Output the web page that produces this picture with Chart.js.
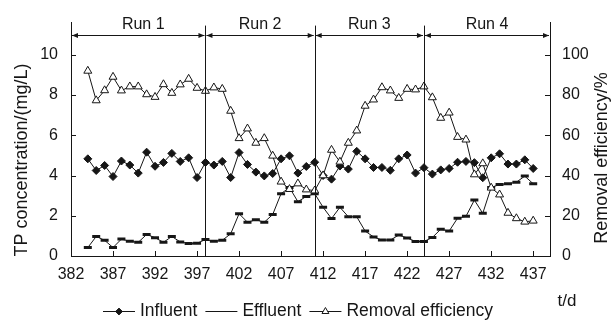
<!DOCTYPE html>
<html>
<head>
<meta charset="utf-8">
<script src="https://cdn.jsdelivr.net/npm/chart.js@4.4.1/dist/chart.umd.min.js"></script>
<style>
html, body { margin: 0; padding: 0; background: #fff; }
</style>
</head>
<body>
<canvas id="graph" width="612" height="327"></canvas>
<script>
// days of operation (t/d)
var days = [384, 385, 386, 387, 388, 389, 390, 391, 392, 393, 394, 395, 396, 397, 398, 399, 400,
  401, 402, 403, 404, 405, 406, 407, 408, 409, 410, 411, 412, 413, 414, 415, 416, 417, 418, 419, 420,
  421, 422, 423, 424, 425, 426, 427, 428, 429, 430, 431, 432, 433, 434, 435, 436, 437]

// TP, mg/L
var influent = [4.83, 4.25, 4.5, 3.95, 4.72, 4.52, 4.12, 5.16, 4.46, 4.65, 5.1, 4.7, 4.88, 3.9, 4.65, 4.52, 4.7,
  3.9, 5.14, 4.55, 4.17, 3.98, 4.1, 4.83, 4.98, 4.12, 4.45, 4.66, 4.0, 3.82, 4.47, 4.32, 5.2, 4.83, 4.4, 4.4, 4.26,
  4.83, 5.02, 4.12, 4.39, 4.07, 4.28, 4.35, 4.66, 4.7, 4.64, 3.89, 4.88, 5.08, 4.57, 4.57, 4.78, 4.35]

var effluent = [0.42, 0.97, 0.78, 0.42, 0.84, 0.73, 0.68, 1.07, 0.91, 0.68, 0.97, 0.7, 0.62, 0.63, 0.82, 0.73, 0.78,
  1.1, 2.1, 1.68, 1.8, 1.68, 2.06, 3.1, 3.4, 2.7, 2.96, 3.1, 2.42, 1.86, 2.42, 1.95, 1.95, 1.24, 0.95, 0.79, 0.79,
  1.04, 0.9, 0.72, 0.72, 0.92, 1.33, 1.24, 1.88, 1.97, 2.78, 2.12, 3.41, 3.55, 3.59, 3.67, 3.97, 3.59]

// removal efficiency, %
var removal = [92, 77.3, 82.3, 89, 82.2, 84.2, 84.2, 80.3, 79, 85.3, 81, 85.2, 88, 83.5, 82, 83.7, 83,
  72.1, 58.5, 63.3, 56.2, 58.5, 49.8, 36.9, 33.2, 36, 33, 32.5, 40, 52.7, 46.8, 56.2, 62.3, 74.6, 77.7, 83.8, 82.2,
  78.5, 83, 82.7, 84.2, 78.8, 68.6, 71.2, 59.1, 57.8, 40.5, 46, 33.9, 30.5, 21.4, 18.7, 17, 17.5]

var xTicks = [382, 387, 392, 397, 402, 407, 412, 417, 422, 427, 432, 437]
var yTicks = [0, 2, 4, 6, 8, 10]
var y1Ticks = [0, 20, 40, 60, 80, 100]

var runNames = ['Run 1', 'Run 2', 'Run 3', 'Run 4']
var runBounds = [382, 398, 411, 424, 439]

var FONT = '"Liberation Sans", Arial, sans-serif'
var INK = '#161616'

function pts(arr) {
  return days.map(function (d, i) { return { x: d, y: arr[i] } })
}

// inward ticks, run markers, axis titles, legend
var decor = {
  id: 'decor',
  afterDraw: function (chart) {
    var ctx = chart.ctx, a = chart.chartArea
    var sx = chart.scales.x, sy = chart.scales.y, sy1 = chart.scales.y1
    ctx.save()
    ctx.strokeStyle = INK
    ctx.fillStyle = INK
    ctx.lineWidth = 1

    ctx.beginPath()
    xTicks.forEach(function (v) {
      var p = Math.round(sx.getPixelForValue(v)) + 0.5
      ctx.moveTo(p, a.bottom); ctx.lineTo(p, a.bottom - 5)
    })
    yTicks.forEach(function (v) {
      var p = Math.round(sy.getPixelForValue(v)) + 0.5
      ctx.moveTo(a.left, p); ctx.lineTo(a.left + 5, p)
    })
    y1Ticks.forEach(function (v) {
      var p = Math.round(sy1.getPixelForValue(v)) + 0.5
      ctx.moveTo(a.right, p); ctx.lineTo(a.right - 5, p)
    })
    ctx.stroke()

    // run separators
    ctx.beginPath()
    for (var i = 1; i < runBounds.length - 1; i++) {
      var p = Math.round(sx.getPixelForValue(runBounds[i])) + 0.5
      ctx.moveTo(p, a.top + 3); ctx.lineTo(p, a.bottom)
    }
    ctx.stroke()

    // arrows + run labels
    var ay = 35.5
    ctx.font = '16px ' + FONT
    ctx.textAlign = 'center'
    ctx.textBaseline = 'middle'
    for (var r = 0; r < runNames.length; r++) {
      var x0 = sx.getPixelForValue(runBounds[r]) + 1
      var x1 = sx.getPixelForValue(runBounds[r + 1]) - 1
      ctx.beginPath(); ctx.moveTo(x0, ay); ctx.lineTo(x1, ay); ctx.stroke()
      ctx.beginPath()
      ctx.moveTo(x0, ay); ctx.lineTo(x0 + 6, ay - 2.5); ctx.lineTo(x0 + 6, ay + 2.5); ctx.closePath()
      ctx.moveTo(x1, ay); ctx.lineTo(x1 - 6, ay - 2.5); ctx.lineTo(x1 - 6, ay + 2.5); ctx.closePath()
      ctx.fill()
      var cx = (x0 + x1) / 2 + (r === 0 ? 5 : 0)
      ctx.fillText(runNames[r], cx, 25)
    }

    // axis titles
    ctx.font = '18px ' + FONT
    ctx.save()
    ctx.translate(22, 160)
    ctx.rotate(-Math.PI / 2)
    ctx.fillText('TP concentration/(mg/L)', 0, 0)
    ctx.restore()
    ctx.save()
    ctx.translate(602, 158)
    ctx.rotate(-Math.PI / 2)
    ctx.fillText('Removal efficiency/%', 0, 0)
    ctx.restore()

    // legend
    var ly = 311
    ctx.font = '17.5px ' + FONT
    ctx.textAlign = 'left'
    var items = [
      { label: 'Influent', style: 'rectRot', r: 3.4, fill: INK, bw: 1 },
      { label: 'Effluent', style: 'line', r: 4, fill: INK, bw: 3 },
      { label: 'Removal efficiency', style: 'triangle', r: 4, fill: '#fff', bw: 1 }
    ]
    var lx = 103
    items.forEach(function (it) {
      ctx.lineWidth = 1
      ctx.beginPath(); ctx.moveTo(lx, ly + 0.5); ctx.lineTo(lx + 32, ly + 0.5); ctx.stroke()
      ctx.fillStyle = it.fill
      ctx.strokeStyle = INK
      Chart.helpers.drawPoint(ctx, { pointStyle: it.style, radius: it.r, rotation: 0, borderWidth: it.bw }, lx + 16, ly + 0.5)
      ctx.fillStyle = INK
      ctx.fillText(it.label, lx + 37, ly)
      lx += 37 + ctx.measureText(it.label).width + 8
    })
    ctx.textAlign = 'center'
    ctx.font = '17px ' + FONT
    ctx.fillText('t/d', 567, 301)

    ctx.restore()
  }
}

new Chart(document.getElementById('graph'), {
  type: 'line',
  data: {
    datasets: [
      {
        label: 'Removal efficiency',
        data: pts(removal),
        yAxisID: 'y1',
        order: 0,
        borderColor: INK,
        borderWidth: 1,
        pointStyle: 'triangle',
        pointRadius: 4.6,
        pointBackgroundColor: '#fff',
        pointBorderColor: INK,
        pointBorderWidth: 1
      },
      {
        label: 'Influent',
        data: pts(influent),
        yAxisID: 'y',
        order: 1,
        borderColor: INK,
        borderWidth: 1,
        pointStyle: 'rectRot',
        pointRadius: 4,
        pointBackgroundColor: INK,
        pointBorderColor: INK,
        pointBorderWidth: 1
      },
      {
        label: 'Effluent',
        data: pts(effluent),
        yAxisID: 'y',
        order: 2,
        borderColor: INK,
        borderWidth: 1,
        pointStyle: 'line',
        pointRadius: 4,
        pointBorderColor: INK,
        pointBorderWidth: 3
      }
    ]
  },
  options: {
    responsive: false,
    devicePixelRatio: 1,
    animation: false,
    layout: { padding: { top: 15, left: 0, right: 0, bottom: 0 } },
    plugins: { legend: { display: false }, tooltip: { enabled: false } },
    scales: {
      x: {
        type: 'linear',
        min: 382,
        max: 439,
        afterFit: function (s) { s.height = 71 },
        afterBuildTicks: function (s) { s.ticks = xTicks.map(function (v) { return { value: v } }) },
        grid: { display: false, drawTicks: false },
        border: { display: true, color: INK, width: 1 },
        ticks: { padding: 9, color: INK, font: { family: FONT, size: 16 }, maxRotation: 0 }
      },
      y: {
        position: 'left',
        min: 0,
        max: 11.6,
        afterFit: function (s) { s.width = 71 },
        afterBuildTicks: function (s) { s.ticks = yTicks.map(function (v) { return { value: v } }) },
        grid: { display: false, drawTicks: false },
        border: { display: true, color: INK, width: 1 },
        ticks: { padding: 13, color: INK, font: { family: FONT, size: 16 } }
      },
      y1: {
        position: 'right',
        min: 0,
        max: 116,
        afterFit: function (s) { s.width = 62 },
        afterBuildTicks: function (s) { s.ticks = y1Ticks.map(function (v) { return { value: v } }) },
        grid: { display: false, drawTicks: false },
        border: { display: true, color: INK, width: 1 },
        ticks: { padding: 12, color: INK, font: { family: FONT, size: 16 } }
      }
    }
  },
  plugins: [decor]
})
</script>
</body>
</html>
